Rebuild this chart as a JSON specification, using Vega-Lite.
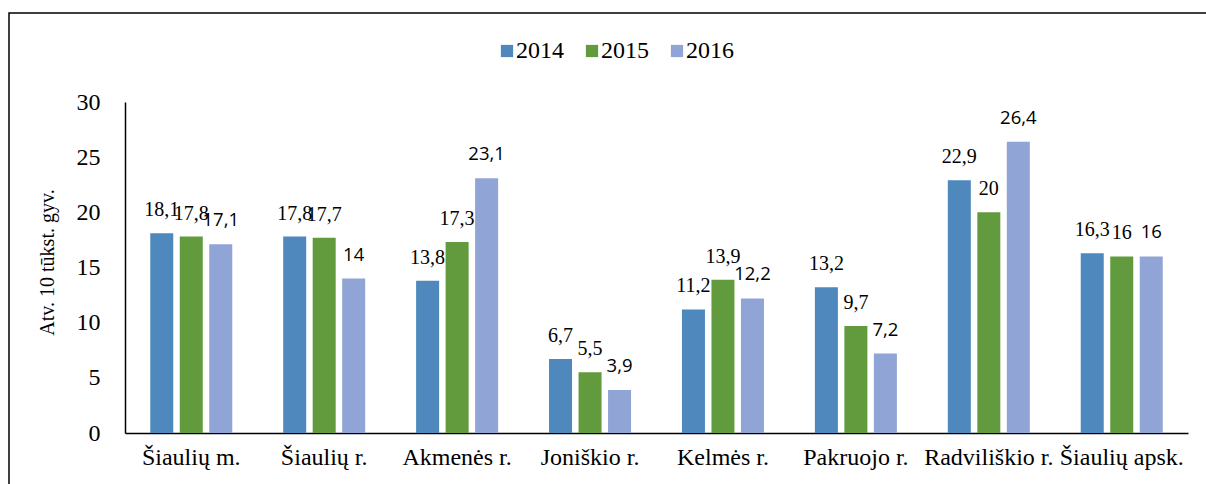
{
  "$schema": "https://vega.github.io/schema/vega-lite/v6.json",
  "width": 1198,
  "height": 472,
  "autosize": {"type": "none"},
  "padding": {"left": 9, "top": 13, "right": -1, "bottom": -1},
  "background": "white",
  "config": {
    "view": {"stroke": "black", "strokeWidth": 1.5},
    "font": "Liberation Serif"
  },
  "data": {
    "values": [
      {"area": "Šiaulių m.", "year": "2014", "value": 18.1},
      {"area": "Šiaulių m.", "year": "2015", "value": 17.8},
      {"area": "Šiaulių m.", "year": "2016", "value": 17.1},
      {"area": "Šiaulių r.", "year": "2014", "value": 17.8},
      {"area": "Šiaulių r.", "year": "2015", "value": 17.7},
      {"area": "Šiaulių r.", "year": "2016", "value": 14},
      {"area": "Akmenės r.", "year": "2014", "value": 13.8},
      {"area": "Akmenės r.", "year": "2015", "value": 17.3},
      {"area": "Akmenės r.", "year": "2016", "value": 23.1},
      {"area": "Joniškio r.", "year": "2014", "value": 6.7},
      {"area": "Joniškio r.", "year": "2015", "value": 5.5},
      {"area": "Joniškio r.", "year": "2016", "value": 3.9},
      {"area": "Kelmės r.", "year": "2014", "value": 11.2},
      {"area": "Kelmės r.", "year": "2015", "value": 13.9},
      {"area": "Kelmės r.", "year": "2016", "value": 12.2},
      {"area": "Pakruojo r.", "year": "2014", "value": 13.2},
      {"area": "Pakruojo r.", "year": "2015", "value": 9.7},
      {"area": "Pakruojo r.", "year": "2016", "value": 7.2},
      {"area": "Radviliškio r.", "year": "2014", "value": 22.9},
      {"area": "Radviliškio r.", "year": "2015", "value": 20},
      {"area": "Radviliškio r.", "year": "2016", "value": 26.4},
      {"area": "Šiaulių apsk.", "year": "2014", "value": 16.3},
      {"area": "Šiaulių apsk.", "year": "2015", "value": 16},
      {"area": "Šiaulių apsk.", "year": "2016", "value": 16}
    ]
  },
  "transform": [
    {"calculate": "replace(toString(datum.value), '.', ',')", "as": "label"}
  ],
  "encoding": {
    "x": {
      "field": "area",
      "type": "nominal",
      "sort": null,
      "scale": {"range": [116, 1179], "paddingInner": 0.383, "paddingOuter": 0.19},
      "axis": {
        "title": null,
        "orient": "bottom",
        "offset": -52,
        "labelAngle": 0,
        "labelFont": "Liberation Serif",
        "labelFontSize": 24,
        "labelColor": "black",
        "labelPadding": 12,
        "ticks": false,
        "tickSize": 0,
        "domainColor": "black",
        "domainWidth": 1.5,
        "grid": false
      }
    },
    "xOffset": {
      "field": "year",
      "type": "nominal",
      "scale": {"paddingInner": 0.22, "paddingOuter": 0}
    },
    "y": {
      "field": "value",
      "type": "quantitative",
      "scale": {"domain": [0, 30], "range": [420, 89], "nice": false},
      "axis": {
        "title": "Atv. 10 tūkst. gyv.",
        "orient": "left",
        "offset": -116,
        "values": [0, 5, 10, 15, 20, 25, 30],
        "labelFont": "Liberation Serif",
        "labelFontSize": 24,
        "labelColor": "black",
        "labelPadding": 25,
        "ticks": false,
        "tickSize": 0,
        "grid": false,
        "domainColor": "black",
        "domainWidth": 1.5,
        "titleFont": "Liberation Serif",
        "titleFontSize": 20,
        "titleFontWeight": "normal",
        "titleColor": "black",
        "titleX": -78,
        "titleY": 249,
        "titleAngle": -90,
        "titleBaseline": "middle",
        "titleAlign": "center"
      }
    }
  },
  "layer": [
    {
      "mark": {"type": "bar"},
      "encoding": {
        "color": {
          "field": "year",
          "type": "nominal",
          "scale": {"domain": ["2014", "2015", "2016"], "range": ["#4e88bd", "#629b3e", "#90a5d5"]},
          "legend": {
            "title": null,
            "orient": "none",
            "direction": "horizontal",
            "legendX": 486,
            "legendY": 26,
            "padding": 0,
            "symbolType": "square",
            "symbolSize": 150,
            "symbolStrokeWidth": 0,
            "labelFont": "Liberation Serif",
            "labelFontSize": 24,
            "labelColor": "black",
            "labelOffset": -3,
            "columnPadding": 16
          }
        }
      }
    },
    {
      "transform": [{"filter": "datum.year != '2016'"}],
      "mark": {"type": "text", "font": "Liberation Serif", "fontSize": 20, "baseline": "alphabetic", "dy": -17, "color": "black"},
      "encoding": {"text": {"field": "label"}}
    },
    {
      "transform": [{"filter": "datum.year == '2016'"}],
      "mark": {"type": "text", "font": "Open Sans", "fontSize": 18.5, "baseline": "alphabetic", "dy": -18, "color": "black"},
      "encoding": {"text": {"field": "label"}}
    }
  ]
}
